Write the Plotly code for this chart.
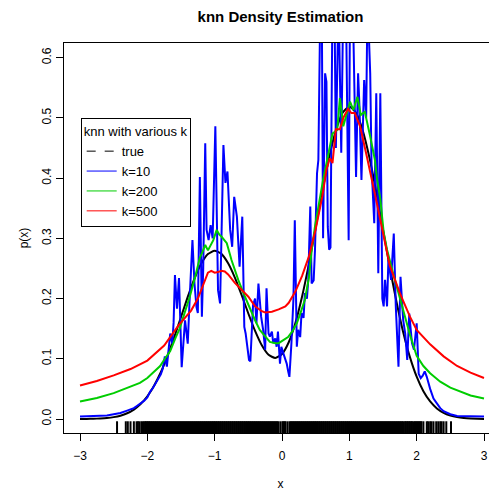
import plotly.graph_objects as go

# ---------------- data ----------------
true_x = [-3.0, -2.9, -2.8, -2.7, -2.6, -2.5, -2.4, -2.3, -2.2, -2.1, -2.0, -1.9, -1.8, -1.7, -1.6,
          -1.5, -1.4, -1.3, -1.2, -1.1, -1.0, -0.9, -0.8, -0.7, -0.6, -0.5, -0.4, -0.3, -0.2, -0.1,
          0.0, 0.1, 0.2, 0.3, 0.4, 0.5, 0.6, 0.7, 0.8, 0.9, 1.0, 1.1, 1.2, 1.3, 1.4, 1.5, 1.6, 1.7,
          1.8, 1.9, 2.0, 2.1, 2.2, 2.3, 2.4, 2.5, 2.6, 2.7, 2.8, 2.9, 3.0]
true_y = [0.0001, 0.0002, 0.0004, 0.0009, 0.0017, 0.0031, 0.0055, 0.0095, 0.0157, 0.0248, 0.0378,
          0.0553, 0.0776, 0.1048, 0.1360, 0.1694, 0.2028, 0.2333, 0.2578, 0.2738, 0.2795, 0.2742,
          0.2586, 0.2349, 0.2059, 0.1752, 0.1463, 0.1224, 0.1067, 0.1014, 0.1080, 0.1275, 0.1599,
          0.2042, 0.2580, 0.3177, 0.3783, 0.4342, 0.4792, 0.5086, 0.5188, 0.5084, 0.4788, 0.4333,
          0.3766, 0.3146, 0.2525, 0.1947, 0.1442, 0.1027, 0.0702, 0.0461, 0.0291, 0.0176, 0.0103,
          0.0058, 0.0031, 0.0016, 0.0008, 0.0004, 0.0002]

k10_x = [-3.00, -2.80, -2.60, -2.50, -2.40, -2.30, -2.20, -2.15, -2.10, -2.05, -2.00, -1.96, -1.92,
         -1.88, -1.84, -1.80, -1.77, -1.74, -1.71, -1.68, -1.66, -1.63, -1.61, -1.59, -1.56, -1.53,
         -1.49, -1.44, -1.40, -1.37, -1.33, -1.30, -1.27, -1.25, -1.22, -1.19, -1.17, -1.14, -1.12,
         -1.09, -1.06, -1.03, -0.99, -0.95, -0.92, -0.87, -0.84, -0.81, -0.77, -0.74, -0.71, -0.67,
         -0.65, -0.63, -0.59, -0.56, -0.54, -0.51, -0.49, -0.47, -0.43, -0.40, -0.38, -0.35, -0.31,
         -0.28, -0.25, -0.23, -0.20, -0.18, -0.15, -0.13, -0.10, -0.08, -0.06, -0.03, -0.01, 0.02,
         0.05, 0.07, 0.09, 0.11, 0.14, 0.17, 0.19, 0.22, 0.24, 0.27, 0.29, 0.32, 0.34, 0.37, 0.39,
         0.42, 0.44, 0.47, 0.49, 0.52, 0.54, 0.57, 0.59, 0.61, 0.64, 0.66, 0.68, 0.70, 0.72, 0.75,
         0.78, 0.80, 0.84, 0.88, 0.91, 0.95, 0.99, 1.01, 1.05, 1.10, 1.13, 1.15, 1.18, 1.22, 1.25,
         1.27, 1.31, 1.33, 1.37, 1.40, 1.43, 1.46, 1.49, 1.51, 1.53, 1.56, 1.58, 1.62, 1.66, 1.69,
         1.73, 1.76, 1.80, 1.83, 1.86, 1.89, 1.93, 1.96, 2.00, 2.03, 2.06, 2.09, 2.12, 2.15, 2.20,
         2.25, 2.30, 2.35, 2.40, 2.45, 2.50, 2.60, 2.80, 3.00]
k10_y = [0.004, 0.005, 0.006, 0.008, 0.010, 0.014, 0.018, 0.022, 0.026, 0.030, 0.036, 0.045, 0.051,
         0.058, 0.066, 0.074, 0.084, 0.104, 0.087, 0.120, 0.142, 0.125, 0.160, 0.239, 0.183, 0.234,
         0.086, 0.164, 0.125, 0.203, 0.297, 0.225, 0.186, 0.176, 0.402, 0.170, 0.250, 0.458, 0.314,
         0.297, 0.322, 0.300, 0.486, 0.214, 0.192, 0.455, 0.392, 0.411, 0.314, 0.286, 0.369, 0.336,
         0.292, 0.253, 0.336, 0.153, 0.142, 0.120, 0.098, 0.096, 0.189, 0.200, 0.159, 0.225, 0.170,
         0.148, 0.115, 0.217, 0.142, 0.137, 0.145, 0.126, 0.134, 0.120, 0.145, 0.092, 0.120, 0.109,
         0.098, 0.092, 0.080, 0.070, 0.126, 0.200, 0.330, 0.120, 0.148, 0.136, 0.176, 0.168, 0.209,
         0.200, 0.231, 0.353, 0.225, 0.230, 0.281, 0.408, 0.430, 0.700, 0.700, 0.300, 0.574, 0.560,
         0.319, 0.281, 0.285, 0.700, 0.680, 0.450, 0.700, 0.442, 0.700, 0.690, 0.297, 0.700, 0.700,
         0.402, 0.574, 0.520, 0.397, 0.563, 0.500, 0.700, 0.574, 0.419, 0.325, 0.541, 0.242, 0.541,
         0.200, 0.187, 0.231, 0.187, 0.264, 0.231, 0.308, 0.187, 0.087, 0.236, 0.164, 0.142, 0.098,
         0.175, 0.126, 0.115, 0.159, 0.075, 0.068, 0.072, 0.079, 0.070, 0.050, 0.034, 0.026, 0.018,
         0.013, 0.010, 0.008, 0.005, 0.004, 0.004]

k200_x = [-3.00, -2.75, -2.50, -2.25, -2.11, -2.00, -1.90, -1.81, -1.74, -1.66, -1.58, -1.52, -1.45,
          -1.37, -1.29, -1.22, -1.19, -1.14, -1.10, -1.05, -1.02, -0.97, -0.93, -0.90, -0.82, -0.75,
          -0.65, -0.55, -0.45, -0.40, -0.33, -0.25, -0.18, -0.10, -0.05, 0.02, 0.09, 0.15, 0.22,
          0.28, 0.34, 0.40, 0.44, 0.49, 0.57, 0.61, 0.69, 0.75, 0.82, 0.86, 0.91, 0.96, 1.01, 1.06,
          1.12, 1.17, 1.23, 1.31, 1.38, 1.41, 1.46, 1.51, 1.56, 1.65, 1.80, 1.90, 2.00, 2.10, 2.20,
          2.35, 2.50, 2.65, 2.80, 3.00]
k200_y = [0.029, 0.035, 0.043, 0.054, 0.060, 0.068, 0.078, 0.088, 0.100, 0.113, 0.135, 0.150, 0.175,
          0.203, 0.236, 0.268, 0.275, 0.289, 0.280, 0.292, 0.297, 0.314, 0.306, 0.303, 0.292, 0.264,
          0.231, 0.203, 0.176, 0.164, 0.148, 0.137, 0.128, 0.126, 0.126, 0.131, 0.136, 0.145, 0.159,
          0.178, 0.198, 0.235, 0.280, 0.320, 0.372, 0.397, 0.441, 0.474, 0.480, 0.533, 0.486, 0.508,
          0.527, 0.513, 0.535, 0.505, 0.510, 0.469, 0.430, 0.400, 0.365, 0.310, 0.281, 0.242, 0.180,
          0.140, 0.105, 0.088, 0.076, 0.062, 0.052, 0.045, 0.039, 0.034]

k500_x = [-3.00, -2.75, -2.50, -2.25, -2.00, -1.75, -1.54, -1.50, -1.35, -1.25, -1.15, -1.10, -1.05,
          -1.00, -0.95, -0.90, -0.85, -0.80, -0.70, -0.60, -0.50, -0.40, -0.30, -0.25, -0.15, -0.05,
          0.05, 0.10, 0.20, 0.30, 0.40, 0.50, 0.60, 0.66, 0.71, 0.75, 0.80, 0.86, 0.91, 0.98, 1.03,
          1.08, 1.16, 1.26, 1.33, 1.41, 1.46, 1.55, 1.60, 1.75, 1.90, 2.00, 2.20, 2.40, 2.60, 2.80,
          3.00]
k500_y = [0.0556, 0.063, 0.0725, 0.083, 0.097, 0.122, 0.155, 0.160, 0.180, 0.200, 0.228, 0.243,
          0.246, 0.243, 0.244, 0.246, 0.245, 0.240, 0.226, 0.215, 0.203, 0.187, 0.179, 0.177, 0.178,
          0.182, 0.187, 0.193, 0.212, 0.238, 0.270, 0.315, 0.370, 0.414, 0.433, 0.425, 0.481, 0.481,
          0.500, 0.515, 0.508, 0.508, 0.486, 0.436, 0.402, 0.358, 0.331, 0.281, 0.255, 0.209, 0.170,
          0.148, 0.124, 0.104, 0.088, 0.077, 0.068]

rug = [-2.45, -2.32, -2.29, -2.25, -2.20, -2.16, -2.14, -2.12, -2.09, -2.07, -2.05,
       -2.03, -2.02, -2.00, -1.99, -1.97, -1.96, -1.94, -1.93, -1.91, -1.90, -1.88, -1.87, -1.85,
       -1.84, -1.82, -1.81, -1.79, -1.78, -1.76, -1.75, -1.73, -1.72, -1.70, -1.69, -1.67, -1.66,
       -1.64, -1.63, -1.61, -1.60, -1.58, -1.57, -1.55, -1.54, -1.52, -1.51, -1.49, -1.48, -1.46,
       -1.45, -1.43, -1.42, -1.40, -1.39, -1.37, -1.36, -1.34, -1.33, -1.31, -1.30, -1.28, -1.27,
       -1.25, -1.24, -1.22, -1.21, -1.19, -1.18, -1.16, -1.15, -1.13, -1.12, -1.10, -1.09, -1.07,
       -1.06, -1.04, -1.03, -1.01, -1.00, -0.98, -0.97, -0.95, -0.94, -0.92, -0.91, -0.89, -0.88,
       -0.86, -0.85, -0.83, -0.82, -0.80, -0.79, -0.77, -0.76, -0.74, -0.73, -0.71, -0.70, -0.68,
       -0.67, -0.65, -0.64, -0.62, -0.61, -0.59, -0.58, -0.56, -0.55, -0.53, -0.52, -0.50, -0.49,
       -0.47, -0.46, -0.44, -0.43, -0.41, -0.40, -0.38, -0.37, -0.35, -0.34, -0.32, -0.31, -0.29,
       -0.28, -0.26, -0.25, -0.23, -0.22, -0.20, -0.19, -0.17, -0.16, -0.14, -0.13, -0.11, -0.10,
       -0.08, -0.07, -0.05, -0.02, 0.01, 0.02, 0.04, 0.05, 0.08, 0.11, 0.13, 0.14, 0.16, 0.17,
       0.19, 0.20, 0.22, 0.23, 0.25, 0.26, 0.28, 0.29, 0.31, 0.32, 0.34, 0.35, 0.37, 0.38, 0.40,
       0.41, 0.43, 0.44, 0.46, 0.47, 0.49, 0.50, 0.52, 0.53, 0.55, 0.56, 0.58, 0.59, 0.61, 0.62,
       0.64, 0.65, 0.67, 0.68, 0.70, 0.71, 0.73, 0.74, 0.76, 0.77, 0.79, 0.80, 0.82, 0.83, 0.85,
       0.86, 0.88, 0.89, 0.91, 0.92, 0.94, 0.95, 0.97, 0.98, 1.00, 1.01, 1.03, 1.04, 1.06, 1.07,
       1.09, 1.10, 1.12, 1.13, 1.15, 1.16, 1.18, 1.19, 1.21, 1.22, 1.24, 1.25, 1.27, 1.28, 1.30,
       1.31, 1.33, 1.34, 1.36, 1.37, 1.39, 1.40, 1.42, 1.43, 1.45, 1.46, 1.48, 1.49, 1.51, 1.52,
       1.54, 1.55, 1.57, 1.58, 1.60, 1.61, 1.63, 1.64, 1.66, 1.67, 1.69, 1.70, 1.72, 1.73, 1.75,
       1.76, 1.78, 1.79, 1.81, 1.83, 1.84, 1.86, 1.87, 1.89, 1.90, 1.92, 1.93, 1.95, 1.97, 1.98,
       2.00, 2.01, 2.03, 2.04, 2.06, 2.07,
       2.10, 2.15, 2.17, 2.20, 2.22, 2.25, 2.29, 2.32, 2.35, 2.37, 2.40, 2.44, 2.51]

x_ticks = [-3, -2, -1, 0, 1, 2, 3]
y_ticks = [0.0, 0.1, 0.2, 0.3, 0.4, 0.5, 0.6]
y_tick_labels = ["0.0", "0.1", "0.2", "0.3", "0.4", "0.5", "0.6"]

legend_names = ["true", "k=10", "k=200", "k=500"]
series_colors = ["black", "#0000FF", "#00CD00", "#FF0000"]

# ---------------- figure ----------------
# the page body has an 8px margin, so the figure is placed 8px right/down in the window
FONT = "Liberation Sans, Arial, Helvetica, sans-serif"
XR = [-3.2377, 3.193]
YR = [-0.02325, 0.6244]
W, H = 489, 483

fig = go.Figure()

fig.add_trace(go.Scatter(x=true_x, y=true_y, mode="lines", showlegend=False, hoverinfo="skip",
                         line=dict(color=series_colors[0], width=2, shape="spline", smoothing=0.6)))
for xs, ys, c in [(k10_x, k10_y, series_colors[1]), (k200_x, k200_y, series_colors[2]),
                  (k500_x, k500_y, series_colors[3])]:
    fig.add_trace(go.Scatter(x=xs, y=ys, mode="lines", showlegend=False, hoverinfo="skip",
                             line=dict(color=c, width=2)))

# rug along the bottom of the plotting region (3% of plot height)
rug_len = 0.03 * (YR[1] - YR[0])
rug_y = YR[0] + rug_len / 2
fig.add_trace(go.Scatter(x=rug, y=[rug_y] * len(rug), mode="markers", showlegend=False,
                         hoverinfo="skip",
                         marker=dict(symbol="line-ns", size=8.4, color="black",
                                     line=dict(width=2, color="black"))))

# legend entries
dashes = ["dash", "solid", "solid", "solid"]
for name, c, d in zip(legend_names, series_colors, dashes):
    fig.add_trace(go.Scatter(x=[None], y=[None], mode="lines", name=name,
                             line=dict(color=c, width=1, dash=d)))

fig.update_layout(
    width=W, height=H,
    margin=dict(l=56, r=0, t=35, b=58),
    paper_bgcolor="white", plot_bgcolor="white",
    font=dict(family=FONT, size=12, color="black"),
    title=dict(text="<b>knn Density Estimation</b>", x=0.5, xref="paper", xanchor="center",
               y=1 - 3 / H, yref="container", yanchor="top",
               font=dict(family=FONT, size=15, color="black")),
    showlegend=True,
    legend=dict(x=(80.7 - 64) / 433, y=(433 - 118.3) / 390, xanchor="left", yanchor="top",
                bgcolor="white", bordercolor="black", borderwidth=1,
                font=dict(family=FONT, size=13, color="black"),
                title=dict(text="knn with various k", side="top center",
                           font=dict(family=FONT, size=13, color="black")),
                itemwidth=30, tracegroupgap=0),
    xaxis=dict(range=XR, tickvals=x_ticks, ticks="outside", ticklen=7, tickwidth=1,
               tickcolor="black", showline=True, linecolor="black", linewidth=1, mirror=True,
               showgrid=False, zeroline=False, ticklabelstandoff=5, automargin=False,
               title=dict(text="x", standoff=22, font=dict(family=FONT, size=12))),
    yaxis=dict(range=YR, tickvals=y_ticks, ticktext=y_tick_labels, tickangle=-90,
               ticks="outside", ticklen=7, tickwidth=1, tickcolor="black",
               showline=True, linecolor="black", linewidth=1, mirror=False,
               showgrid=False, zeroline=False, ticklabelstandoff=0, automargin=False,
               title=dict(text="p(x)", standoff=9, font=dict(family=FONT, size=12))),
)

fig.write_html("out.html")
